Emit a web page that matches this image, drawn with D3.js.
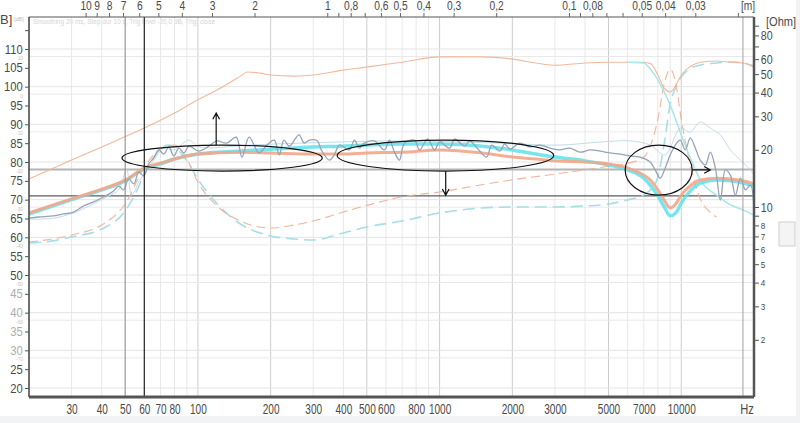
<!DOCTYPE html>
<html><head><meta charset="utf-8">
<script src="https://cdn.jsdelivr.net/npm/d3@7"></script>
<style>
html,body{margin:0;padding:0;background:#f2f3f4;}
svg{display:block;font-family:"Liberation Sans",Arial,sans-serif;}
</style></head><body>
<svg id="c" width="800" height="423"></svg>
<script>
// ---------- DATA ----------
const freqLabels = [30,40,50,60,70,80,100,200,300,400,500,600,800,1000,2000,3000,5000,7000,10000];
const freqGrid = [20,30,40,50,60,70,80,90,100,200,300,400,500,600,700,800,900,1000,2000,3000,4000,5000,6000,7000,8000,9000,10000,20000];
const freqGridMedium = [100,200,500,1000,2000,5000,10000];
const dbTicks = [20,25,30,35,40,45,50,55,60,65,70,75,80,85,90,95,100,105,110,115];
const dbLabelsLight = [30,35,40,45];
const dbGrid = [20,30,40,50,60,70,80,90,100,110];
const relGrid = [28,38,48,58,68,78,88,98,108];
const relLabels = ["-70","-60","-50","-40","-30","-20","-10","0","10"];
const ohmTicks = [2,3,4,5,6,7,8,9,10,20,30,40,50,60,70,80,90];
const ohmLabeled = [2,3,4,5,6,7,8,10,20,30,40,50,60,80];
const meterTicks = [10,9,8,7,6,5,4,3,2,1,0.9,0.8,0.7,0.6,0.5,0.4,0.3,0.2,0.1,0.09,0.08,0.07,0.06,0.05,0.04,0.03,0.02];
const meterLabeled = [10,9,8,7,6,5,4,3,2,1,0.8,0.6,0.5,0.4,0.3,0.2,0.1,0.08,0.05,0.04,0.03];
const speedOfSound = 343;

// simulated SPL (thick)
const splF = [20,30,40,50,60,70,80,100,150,200,300,400,500,700,1000,1500,2000,2500,3000,4000,5000,6000,7000,7500,8000,8500,9000,9500,10000,11000,12000,14000,16000,18000,20000];
const splOrange = [66.5,70.2,72.8,75.2,78.4,79.7,80.8,82.1,82.6,82.4,82.1,82.1,82.4,82.6,83.2,82.4,81.3,80.8,80.3,80.0,79.5,78.4,76.5,75.0,72.6,69.9,67.8,68.9,71.2,73.9,75.2,75.7,75.5,75.0,74.2];
const splCyan = [66.2,70.0,72.6,75.0,78.2,79.5,80.8,82.1,82.9,83.4,84.0,84.2,84.5,84.8,84.8,84.2,83.2,82.1,81.3,80.3,79.2,77.9,75.7,73.6,71.0,68.1,65.7,66.5,69.1,72.6,74.4,75.2,75.0,74.4,73.6];

// upper thin curves (dB)
const topF = [20,30,40,60,80,100,120,150,160,180,200,250,300,400,500,700,1000,1500,2000,2500,3000,4000,5000,7000,7500,8000,8500,9000,9500,10000,11000,12000,14000,16000,18000,20000];
const topOrange = [75.5,80.5,84.0,89.0,93.0,96.5,99.1,102.8,103.9,103.6,103.1,102.8,103.1,104.4,105.2,106.5,107.9,107.9,107.3,106.3,105.7,106.3,106.5,106.5,106.0,103.1,99.6,98.6,100.4,103.1,105.5,106.5,106.8,106.5,106.3,105.5];
const topCyanF = [6000,7000,7500,8000,8500,9000,9500,10000,11000,12000,14000,16000,18000,20000];
const topCyan = [106.5,106.3,104.4,101.8,98.6,95.1,91.1,87.2,80.5,75.2,71.2,68.6,67.3,65.9];

// impedance (Ohm, dashed)
const impF = [20,25,30,40,50,55,60,65,70,75,80,90,100,120,150,200,250,300,400,500,700,1000,1500,2000,3000,4000,5000,6000,7000,7500,8000,8500,9000,9500,10000,11000,12000,14000,16000,18000,20000];
const impCyan = [6.46,6.63,6.96,7.66,9.53,11.7,14.9,17.9,20.2,21.2,20.7,17.5,14.0,10.4,8.14,7.04,6.79,6.70,7.30,7.85,8.44,9.30,9.88,10.0,10.0,10.12,10.37,10.9,11.6,12.4,14.4,21.5,34.8,42.8,48.3,53.9,55.9,57.3,58.0,57.3,54.6];
const impOrangeF = [20,30,40,50,60,70,80,90,100,120,150,200,250,300,400,500,700,1000,1500,2000,3000,4000,5000,6000,7000,7500,8000,8500,9000,9500,10000,11000,12000,13000,14000];
const impOrange = [6.54,7.12,8.04,10.37,16.2,20.2,21.2,17.9,13.5,10.12,8.44,7.75,8.04,8.44,9.41,10.2,11.3,12.0,13.1,13.9,14.9,15.7,16.4,17.0,18.3,21.5,29.0,44.4,53.2,44.4,29.0,15.85,11.0,9.53,8.86];

// measurement (gray) and pale measurement
const measF = [20,21.9,25.3,27.8,30.6,33.6,37,40.7,44.8,47,49.3,51.7,54.3,56.9,59.7,62.6,65.7,68.9,72.3,75.8,79.5,83.4,87.5,91.8,101,111,120,131,144,152,163,179,193,207,217,227,239,262,275,289,312,324,350,367,385,423,444,466,488,537,591,620,651,682,716,788,826,892,953,1000,1100,1154,1270,1332,1466,1567,1644,1774,1861,1952,2148,2363,2600,2861,3148,3463,3811,4193,4613,5075,5585,6140,6760,7436,7800,8180,8583,9003,9443,9904,10390,10900,11430,11990,12580,13190,13840,14520,15230,15970,16750,17580,18440,19340,20000];
const measDb = [65.1,65.4,65.7,66.2,66.7,68.3,69.4,70.7,72.3,73.6,72.6,75.5,74.2,77.3,76.3,79.5,81.1,83.2,82.1,84.0,81.6,83.7,82.4,84.2,82.9,84.2,85.6,85.0,86.6,81.3,86.6,82.4,84.5,85.8,81.9,85.8,84.2,87.2,85.0,85.8,85.6,83.2,80.5,81.9,84.5,83.2,85.8,83.7,85.0,85.6,83.2,85.8,82.6,80.5,85.0,85.8,83.2,86.1,83.2,85.3,83.7,86.1,84.2,85.6,82.9,81.3,84.5,82.9,84.8,83.4,85.0,84.0,84.5,83.7,83.2,83.7,82.6,83.2,82.9,82.4,82.1,81.6,81.3,80.0,77.9,75.7,78.4,81.9,84.5,85.8,83.2,86.4,83.7,80.5,79.2,82.6,78.4,69.9,77.9,76.5,71.2,75.7,72.6,73.9,67.3];
const paleF = [20,25.3,30.6,37,42.7,47,50.7,53.2,56.9,61.4,65.7,72.3,79.5,91.8,101,163,262,682,1774,3148,4613,6140,7436,8583,9904,10900,11990,13190,14520,15970,17580,19340,20000];
const paleDb = [64.8,65.1,66.5,68.9,71.0,72.6,77.9,71.2,74.7,77.9,80.5,83.7,83.2,85.8,84.0,84.5,85.0,85.6,85.0,84.5,85.3,85.6,84.5,81.9,89.0,88.0,90.6,89.0,87.2,83.2,80.5,77.9,76.5];

// reference lines / markers
const refBlackDb = 71;
const refGrayDb = 78;
const markerF = [50,60,18000];

// annotations: [fLeft, fRight, dbLow, dbHigh]
const ellipses = [[48.5,327,77.6,84.5],[377,2967,77.6,85.8],[5860,11100,71.2,84.5]];
// arrows: [f1, db1, f2, db2]
const arrows = [[119,84.5,119,93.0],[1060,77.6,1060,71.2],[11100,77.9,13190,77.9]];

// ---------- CHART ----------
const P = {left:29,right:754,top:17,bottom:397};
const svg = d3.select("#c");
svg.append("rect").attr("x",0).attr("y",0).attr("width",796).attr("height",416).attr("fill","#fff");

const x = d3.scaleLog().domain([20,20000]).range([P.left,P.right]);
const yDb = d3.scaleLinear().domain([20,110]).range([388,49]);
const yOhm = d3.scaleLog().domain([1,100]).range([P.bottom,P.top]);

svg.append("defs").append("clipPath").attr("id","clip")
  .append("rect").attr("x",P.left).attr("y",P.top).attr("width",P.right-P.left).attr("height",P.bottom-P.top);

// faint header
svg.append("text").attr("x",33).attr("y",24).attr("font-size",6.5).attr("fill","#d4d4d4")
  .text("Smoothing 20 ms, Step dur 10 s, Trig level -20,0 dB, Trig: close");

// grid
const grid = svg.append("g");
grid.selectAll(".vg").data(freqGrid).join("line")
  .attr("x1",d=>x(d)).attr("x2",d=>x(d)).attr("y1",P.top).attr("y2",P.bottom)
  .attr("stroke",d=>freqGridMedium.includes(d)?"#cdcdcd":"#e8e8e8").attr("stroke-width",1);
grid.selectAll(".hg").data(dbGrid).join("line")
  .attr("x1",P.left).attr("x2",P.right).attr("y1",d=>yDb(d)).attr("y2",d=>yDb(d))
  .attr("stroke","#e4e4e4");
grid.selectAll(".hr").data(relGrid).join("line")
  .attr("x1",P.left).attr("x2",P.right).attr("y1",d=>yDb(d)).attr("y2",d=>yDb(d))
  .attr("stroke","#e9e9e9");

// reference horizontal lines
svg.append("line").attr("x1",P.left).attr("x2",P.right).attr("y1",yDb(refGrayDb)).attr("y2",yDb(refGrayDb))
  .attr("stroke","#b4b4b4").attr("stroke-width",2);
svg.append("line").attr("x1",P.left).attr("x2",P.right).attr("y1",yDb(refBlackDb)).attr("y2",yDb(refBlackDb))
  .attr("stroke","#333").attr("stroke-width",1);

const curves = svg.append("g").attr("clip-path","url(#clip)");
const lineDb = c => d3.line().x(d=>x(d[0])).y(d=>yDb(d[1])).curve(c);
const lineOhm = c => d3.line().x(d=>x(d[0])).y(d=>yOhm(d[1])).curve(c);

curves.append("path").datum(d3.zip(impF,impCyan)).attr("d",lineOhm(d3.curveMonotoneX))
  .attr("fill","none").attr("stroke","#a6dde6").attr("stroke-width",1.6).attr("stroke-dasharray","12,6");
curves.append("path").datum(d3.zip(impOrangeF,impOrange)).attr("d",lineOhm(d3.curveMonotoneX))
  .attr("fill","none").attr("stroke","#efb59a").attr("stroke-width",1.1).attr("stroke-dasharray","9,5");
curves.append("path").datum(d3.zip(topF,topOrange)).attr("d",lineDb(d3.curveMonotoneX))
  .attr("fill","none").attr("stroke","#f1b89c").attr("stroke-width",1.1);
curves.append("path").datum(d3.zip(topCyanF,topCyan)).attr("d",lineDb(d3.curveMonotoneX))
  .attr("fill","none").attr("stroke","#a8e6ea").attr("stroke-width",1.5);
curves.append("path").datum(d3.zip(paleF,paleDb)).attr("d",lineDb(d3.curveCatmullRom))
  .attr("fill","none").attr("stroke","#c3dcea").attr("stroke-width",1);
curves.append("path").datum(d3.zip(splF,splCyan)).attr("d",lineDb(d3.curveMonotoneX))
  .attr("fill","none").attr("stroke","#5fe0ea").attr("stroke-width",3.5).attr("stroke-opacity",0.85);
curves.append("path").datum(d3.zip(splF,splOrange)).attr("d",lineDb(d3.curveMonotoneX))
  .attr("fill","none").attr("stroke","#f2a688").attr("stroke-width",3).attr("stroke-opacity",0.9);
curves.append("path").datum(d3.zip(measF,measDb)).attr("d",lineDb(d3.curveCatmullRom))
  .attr("fill","none").attr("stroke","#96a4b5").attr("stroke-width",1.3);

// vertical markers
svg.selectAll(".mk").data(markerF).join("line")
  .attr("x1",d=>x(d)).attr("x2",d=>x(d)).attr("y1",P.top).attr("y2",P.bottom)
  .attr("stroke",(d,i)=>["#8c8c8c","#222","#a0a0a0"][i]).attr("stroke-width",(d,i)=>i===1?1.2:1);

// annotations
const ann = svg.append("g").attr("fill","none").attr("stroke","#111").attr("stroke-width",1.2);
ann.selectAll("ellipse").data(ellipses).join("ellipse")
  .attr("cx",d=>(x(d[0])+x(d[1]))/2).attr("cy",d=>(yDb(d[2])+yDb(d[3]))/2)
  .attr("rx",d=>(x(d[1])-x(d[0]))/2).attr("ry",d=>(yDb(d[2])-yDb(d[3]))/2);
arrows.forEach(a=>{
  const x1=x(a[0]),y1=yDb(a[1]),x2=x(a[2]),y2=yDb(a[3]);
  const ang=Math.atan2(y2-y1,x2-x1), h=7, s=0.5;
  ann.append("path").attr("d",
    `M${x1},${y1}L${x2},${y2}M${x2-h*Math.cos(ang-s)},${y2-h*Math.sin(ang-s)}L${x2},${y2}L${x2-h*Math.cos(ang+s)},${y2-h*Math.sin(ang+s)}`);
});

// axes
const txt = "#4a4a4a";
// bottom
const gB = svg.append("g").attr("transform",`translate(0,${P.bottom})`)
  .call(d3.axisBottom(x).tickValues(freqLabels).tickSize(0).tickFormat(d3.format("d")));
gB.select(".domain").remove();
gB.selectAll("text").attr("y",17).attr("dy",0).attr("fill",txt).attr("font-size",14)
  .attr("transform","scale(0.72,1)");
svg.append("line").attr("x1",P.left).attr("x2",P.right).attr("y1",P.bottom).attr("y2",P.bottom)
  .attr("stroke","#555").attr("stroke-width",3);
svg.append("text").attr("transform",`translate(${P.right-7},${P.bottom+17}) scale(0.8,1)`).attr("text-anchor","middle")
  .attr("font-size",14).attr("fill",txt).text("Hz");

// top (wavelength)
const gT = svg.append("g").attr("transform",`translate(0,${P.top})`)
  .call(d3.axisTop(x).tickValues(meterTicks.map(m=>speedOfSound/m)).tickSize(4).tickPadding(3)
    .tickFormat((d,i)=>meterLabeled.includes(meterTicks[i])?String(meterTicks[i]).replace(".",","):""));
gT.select(".domain").attr("stroke","#555").attr("d",`M${P.left},0H${P.right}`);
gT.selectAll("line").attr("stroke","#666");
gT.selectAll("text").attr("fill",txt).attr("font-size",12.5).attr("transform","scale(0.82,1)");
svg.append("text").attr("transform",`translate(${P.right-6},10) scale(0.85,1)`).attr("text-anchor","middle")
  .attr("font-size",12).attr("fill",txt).text("[m]");

// left (dB)
const gL = svg.append("g").attr("transform",`translate(${P.left},0)`)
  .call(d3.axisLeft(yDb).tickValues(dbTicks).tickSize(4).tickPadding(3)
    .tickFormat(d=>d===115?"":d));
gL.select(".domain").attr("stroke","#444").attr("stroke-width",1.5).attr("d",`M0,${P.top}V${P.bottom}`);
gL.selectAll("line").attr("stroke","#555");
gL.selectAll("text").attr("font-size",12.5).attr("transform","scale(0.9,1)")
  .attr("fill",d=>dbLabelsLight.includes(d)?"#adadad":txt);
svg.selectAll(".rl").data(relGrid).join("text")
  .attr("x",23).attr("y",d=>yDb(d)+3.6).attr("text-anchor","end").attr("font-size",4.8).attr("fill","#c4c4c4")
  .text((d,i)=>relLabels[i]);
svg.append("text").attr("x",0).attr("y",24).attr("font-size",13).attr("fill",txt).text("B]");
svg.append("text").attr("x",14).attr("y",21).attr("font-size",5.5).attr("fill","#bdbdbd").text("[dB]");

// right (Ohm)
const gR = svg.append("g").attr("transform",`translate(${P.right},0)`)
  .call(d3.axisRight(yOhm).tickValues(ohmTicks).tickSize(5).tickPadding(3)
    .tickFormat(d=>ohmLabeled.includes(d)?d:""));
gR.select(".domain").attr("stroke","#555").attr("stroke-width",2.5).attr("d",`M0,${P.top}V${P.bottom}`);
gR.selectAll("line").attr("stroke","#555");
gR.selectAll("text").attr("fill",txt).attr("font-size",d=>d<10?9.5:12.5).attr("transform","scale(0.85,1)");
svg.append("text").attr("transform","translate(766,26) scale(0.85,1)").attr("font-size",13).attr("fill",txt).text("[Ohm]");

// scroll box
svg.append("rect").attr("x",779).attr("y",222).attr("width",16).attr("height",24)
  .attr("fill","#f4f4f4").attr("stroke","#cfcfcf");
</script>
</body></html>
